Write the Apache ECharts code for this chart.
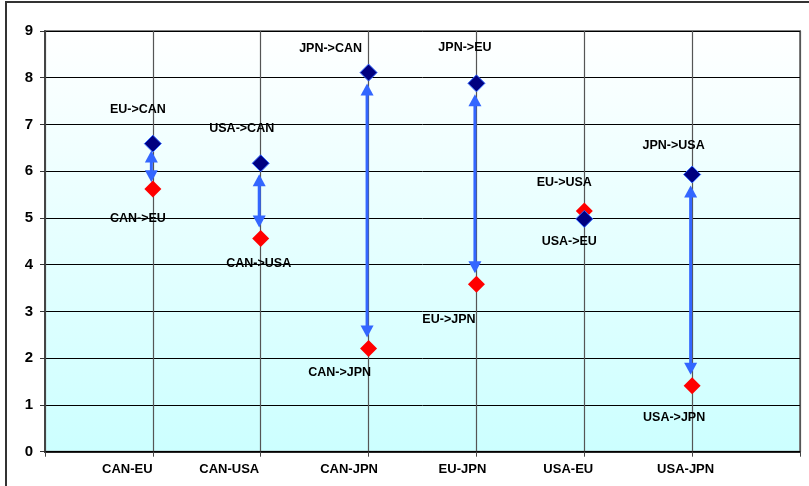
<!DOCTYPE html>
<html>
<head>
<meta charset="utf-8">
<script src="https://cdn.jsdelivr.net/npm/echarts@6/dist/echarts.min.js"></script>
<style>html,body{margin:0;padding:0;background:#fff}#c{width:809px;height:486px}</style>
</head>
<body>
<div id="c"></div>
<script>
// ---- data ----
const categories = ['CAN-EU', 'CAN-USA', 'CAN-JPN', 'EU-JPN', 'USA-EU', 'USA-JPN'];
const navyValues = [6.59, 6.17, 8.11, 7.88, 4.98, 5.93];
const redValues  = [5.62, 4.56, 2.21, 3.58, 5.15, 1.41];
const navyLabels = ['EU->CAN', 'USA->CAN', 'JPN->CAN', 'JPN->EU', 'USA->EU', 'JPN->USA'];
const redLabels  = ['CAN->EU', 'CAN->USA', 'CAN->JPN', 'EU->JPN', 'EU->USA', 'USA->JPN'];
const yTickMin = 0, yTickMax = 9, yTickStep = 1;

// ---- styling (label placement) ----
const navyLabelOffsets = [[-15,-34],[-19,-35],[-38,-24.5],[-11.5,-35.5],[-15,22.5],[-18.5,-28.5]];
const redLabelOffsets  = [[-15,30],[-2,25],[-29,24.5],[-27.5,35],[-20,-28.5],[-18,31.5]];
const xLabelShift = [-25.5, -31.5, -19.5, -14, -16, -6.5];

const FONT = "'Liberation Sans', Arial, sans-serif";
const chart = echarts.init(document.getElementById('c'), null, {renderer: 'canvas'});

const rich = {};
categories.forEach((c, i) => {
  const s = xLabelShift[i];
  rich['c' + i] = {
    fontFamily: FONT, fontWeight: 'bold', fontSize: 13, color: '#000',
    padding: s < 0 ? [0, -2 * s, 0, 0] : [0, 0, 0, 2 * s]
  };
});

function pts(values, labels, offsets) {
  return values.map((v, i) => ({
    value: [i + 1, v],
    name: labels[i],
    label: {offset: offsets[i]}
  }));
}

const arrowData = categories.map((c, i) => [i + 1, redValues[i], navyValues[i]]);

const labelStyle = {show: true, position: 'inside', formatter: p => p.name,
  fontFamily: FONT, fontWeight: 'bold', fontSize: 12.5, color: '#000'};

const option = {
  backgroundColor: '#fff',
  animation: false,
  graphic: [{
    type: 'rect', shape: {x: 6, y: 2, width: 820, height: 500},
    style: {fill: 'none', stroke: '#333', lineWidth: 2}, z: 100
  }],
  grid: {
    left: 45, right: 9, top: 31, bottom: 34.3,
    show: true,
    backgroundColor: new echarts.graphic.LinearGradient(0, 0, 0, 1, [
      {offset: 0, color: '#ffffff'}, {offset: 1, color: '#ccffff'}
    ]),
    borderColor: '#808080', borderWidth: 2
  },
  xAxis: {
    type: 'value', min: 0, max: categories.length + 1, interval: 1,
    axisLine: {show: true, lineStyle: {color: '#000', width: 1.5}},
    axisTick: {show: true, length: 5, lineStyle: {color: '#444'}},
    splitLine: {show: true, lineStyle: {color: '#555', width: 1.2}},
    axisLabel: {
      margin: 11,
      formatter: v => {
        const i = Math.round(v) - 1;
        return (i >= 0 && i < categories.length) ? '{c' + i + '|' + categories[i] + '}' : '';
      },
      rich: rich
    }
  },
  yAxis: {
    type: 'value', min: yTickMin, max: yTickMax, interval: yTickStep,
    axisLine: {show: true, lineStyle: {color: '#444', width: 2}},
    axisTick: {show: true, length: 5, lineStyle: {color: '#333'}},
    splitLine: {show: true, lineStyle: {color: '#000', width: 1}},
    axisLabel: {margin: 12, fontFamily: FONT, fontWeight: 'bold', fontSize: 15, color: '#000'}
  },
  series: [
    {
      type: 'custom',
      z: 2,
      data: arrowData,
      renderItem: function (params, api) {
        const x = api.value(0);
        const p1 = api.coord([x, api.value(1)]);
        const p2 = api.coord([x, api.value(2)]);
        const top = Math.min(p1[1], p2[1]);
        const bot = Math.max(p1[1], p2[1]);
        if (bot - top < 40) return null;
        const cx = p1[0] - 1.5;
        const gap = Math.min(11, (bot - top) * 0.15), head = 12, hw = 6.5;
        const tTop = top + gap, tBot = bot - gap;
        const col = '#3366ff';
        return {
          type: 'group',
          children: [
            {type: 'line', shape: {x1: cx, y1: tTop + head - 1, x2: cx, y2: tBot - head + 1},
             style: {stroke: col, lineWidth: 3}},
            {type: 'polygon', shape: {points: [[cx, tTop], [cx - hw, tTop + head], [cx + hw, tTop + head]]},
             style: {fill: col}},
            {type: 'polygon', shape: {points: [[cx, tBot], [cx - hw, tBot - head], [cx + hw, tBot - head]]},
             style: {fill: col}}
          ]
        };
      }
    },
    {
      type: 'scatter', z: 3,
      symbol: 'diamond', symbolSize: 17,
      itemStyle: {color: '#ff0000', opacity: 1},
      data: pts(redValues, redLabels, redLabelOffsets),
      label: labelStyle
    },
    {
      type: 'scatter', z: 4,
      symbol: 'diamond', symbolSize: 17,
      itemStyle: {color: '#000080', borderColor: '#3366ff', borderWidth: 1, opacity: 1},
      data: pts(navyValues, navyLabels, navyLabelOffsets),
      label: labelStyle
    }
  ]
};
chart.setOption(option);
</script>
</body>
</html>
